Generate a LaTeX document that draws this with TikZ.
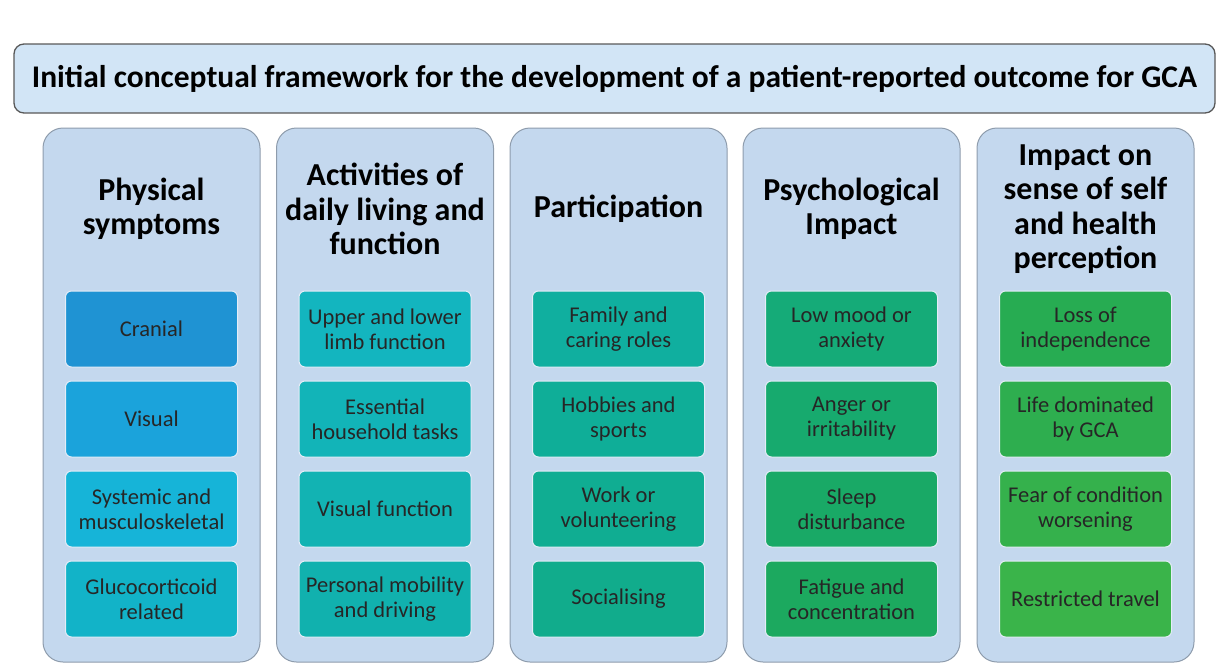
\documentclass[tikz,border=0pt]{standalone}
\usepackage{fontspec}
\setmainfont{Carlito}

\definecolor{titlebg}{HTML}{D2E5F6}
\definecolor{colbg}{HTML}{C4D8EE}
\definecolor{colline}{HTML}{8E9CAC}
% box colours, one list per column
\definecolor{a1}{HTML}{1F93D3}\definecolor{a2}{HTML}{1BA3DB}
\definecolor{a3}{HTML}{16B4D8}\definecolor{a4}{HTML}{12B3C8}
\definecolor{b1}{HTML}{13B5BF}\definecolor{b2}{HTML}{12B4B8}
\definecolor{b3}{HTML}{12B3B3}\definecolor{b4}{HTML}{11B1AE}
\definecolor{c1}{HTML}{10AF9F}\definecolor{c2}{HTML}{0FAE98}
\definecolor{c3}{HTML}{10AD92}\definecolor{c4}{HTML}{11AC8C}
\definecolor{d1}{HTML}{15AB78}\definecolor{d2}{HTML}{17AA6E}
\definecolor{d3}{HTML}{19A966}\definecolor{d4}{HTML}{1CA95F}
\definecolor{e1}{HTML}{27AC52}\definecolor{e2}{HTML}{2EAE4F}
\definecolor{e3}{HTML}{35B14C}\definecolor{e4}{HTML}{3AB44A}

\begin{document}
\begin{tikzpicture}[x=1pt,y=-1pt,
  frametitle/.style={draw=black!65,line width=1.3pt,fill=titlebg,rounded corners=10pt,
    minimum width=1201pt,minimum height=69pt,font=\bfseries\fontsize{31.5}{36}\selectfont},
  column/.style={draw=colline,line width=1pt,fill=colbg,rounded corners=20pt,
    minimum width=217pt,minimum height=534pt},
  head/.style={align=center,font=\bfseries\fontsize{32}{34.5}\selectfont},
  item/.style={draw=white!55!colbg,line width=1pt,rounded corners=6pt,minimum width=172pt,
    minimum height=76pt,align=center,text=black!85,font=\fontsize{22.5}{25}\selectfont}]
\useasboundingbox (0,0) rectangle (1216,664);

\node[frametitle] (title) at (614.5,78.5)
  {Initial conceptual framework for the development of a patient-reported outcome for GCA};

\node[column] (phys) at (151.5,395) {};
\node[column] (adl)  at (385,395) {};
\node[column] (part) at (618.5,395) {};
\node[column] (psy)  at (851.5,395) {};
\node[column] (self) at (1085.5,395) {};

\node[head] (physhead) at (151.5,209) {Physical\\symptoms};
\node[head] (adlhead)  at (385,209) {Activities of\\daily living and\\function};
\node[head] (parthead) at (618.5,209) {Participation};
\node[head] (psyhead)  at (851.5,209) {Psychological\\Impact};
\node[head] (selfhead) at (1085.5,209) {Impact on\\sense of self\\and health\\perception};

\foreach \t [count=\r] in {Cranial, Visual, {Systemic and\\musculoskeletal}, {Glucocorticoid\\related}}
  \node[item,fill=a\r] (phys\r) at (151.5,239+90*\r) {\t};

\foreach \t [count=\r] in {{Upper and lower\\limb function}, {Essential\\household tasks},
    Visual function, {Personal mobility\\and driving}}
  \node[item,fill=b\r] (adl\r) at (385,239+90*\r) {\t};

\foreach \t [count=\r] in {{Family and\\caring roles}, {Hobbies and\\sports},
    {Work or\\volunteering}, Socialising}
  \node[item,fill=c\r] (part\r) at (618.5,239+90*\r) {\t};

\foreach \t [count=\r] in {{Low mood or\\anxiety}, {Anger or\\irritability},
    {Sleep\\disturbance}, {Fatigue and\\concentration}}
  \node[item,fill=d\r] (psy\r) at (851.5,239+90*\r) {\t};

\foreach \t [count=\r] in {{Loss of\\independence}, {Life dominated\\by GCA},
    {Fear of condition\\worsening}, Restricted travel}
  \node[item,fill=e\r] (self\r) at (1085.5,239+90*\r) {\t};

\end{tikzpicture}
\end{document}
